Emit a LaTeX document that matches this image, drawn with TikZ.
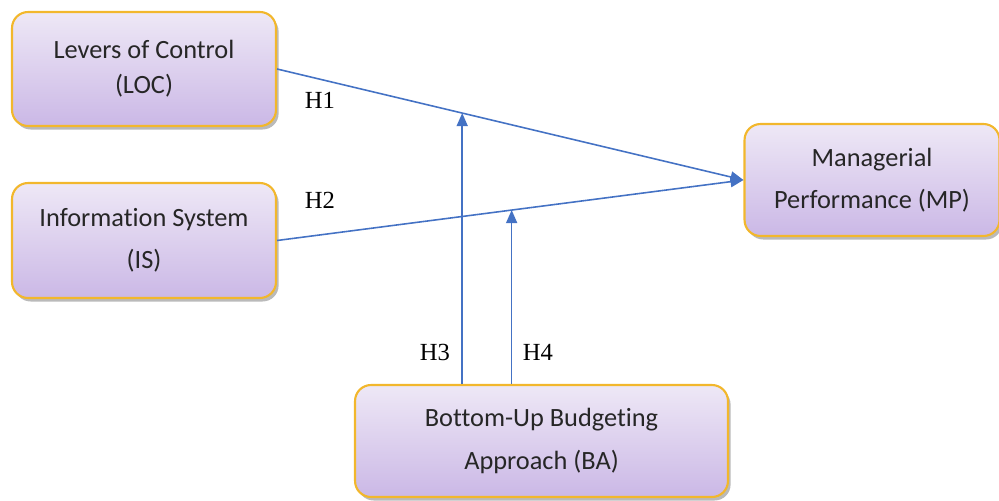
\documentclass[tikz,border=0pt]{standalone}
\usepackage{fontspec}
\setmainfont{Carlito}[Ligatures=NoCommon]
\newfontfamily\hypfont{Liberation Serif}
\usepackage{tikz}
\usetikzlibrary{arrows.meta}
\usetikzlibrary{positioning,calc,shadows}
\definecolor{boxedge}{HTML}{F2B72C}
\definecolor{boxtop}{HTML}{EEE8F6}
\definecolor{boxbot}{HTML}{CBB8E6}
\definecolor{arrowblue}{HTML}{4472C4}
\tikzset{
    varbox/.style={
        draw=boxedge,
        line width=1.2pt,
        rounded corners=0.32cm,
        top color=boxtop,
        bottom color=boxbot,
        drop shadow={shadow xshift=1.5pt, shadow yshift=-2pt, fill=black!45, opacity=0.6},
        align=center,
        text=black!85,
        font={\fontsize{15}{24}\selectfont},
        inner sep=2pt
    },
    hyp/.style={
        font={\hypfont\fontsize{14}{16}\selectfont},
        text=black
    },
    path/.style={
        draw=arrowblue,
        line width=0.9pt,
        -{Triangle[length=0.26cm, width=0.22cm]}
    }
}

\begin{document}
\begin{tikzpicture}[x=0.02cm, y=-0.02cm]
    \useasboundingbox (0,0) rectangle (999,500);

    \node[varbox, minimum width=5.28cm, minimum height=2.28cm, font={\fontsize{15}{20}\selectfont}] (loc) at (144,69) {Levers of Control\\(LOC)};
    \node[varbox, minimum width=5.28cm, minimum height=2.30cm] (is) at (144,240.5) {Information System\\(IS)};
    \node[varbox, minimum width=5.10cm, minimum height=2.24cm] (mp) at (872,180) {Managerial\\Performance (MP)};
    \node[varbox, minimum width=7.46cm, minimum height=2.24cm] (ba) at (541.5,441) {Bottom-Up Budgeting\\Approach (BA)};

    % main effects
    \draw[path] (loc.east) -- (mp.west);
    \draw[path] (is.east) -- (mp.west);

    % moderating effects
    \path (loc.east) -- (mp.west) coordinate[pos=0.397] (h3tip);
    \path (is.east) -- (mp.west) coordinate[pos=0.503] (h4tip);
    \draw[path] (ba.north -| h3tip) -- (h3tip);
    \draw[path] (ba.north -| h4tip) -- (h4tip);

    \node[hyp] (h1) at (320,100) {H1};
    \node[hyp] (h2) at (320,200) {H2};
    \node[hyp] (h3) at (435,352) {H3};
    \node[hyp] (h4) at (538,352) {H4};
\end{tikzpicture}
\end{document}
